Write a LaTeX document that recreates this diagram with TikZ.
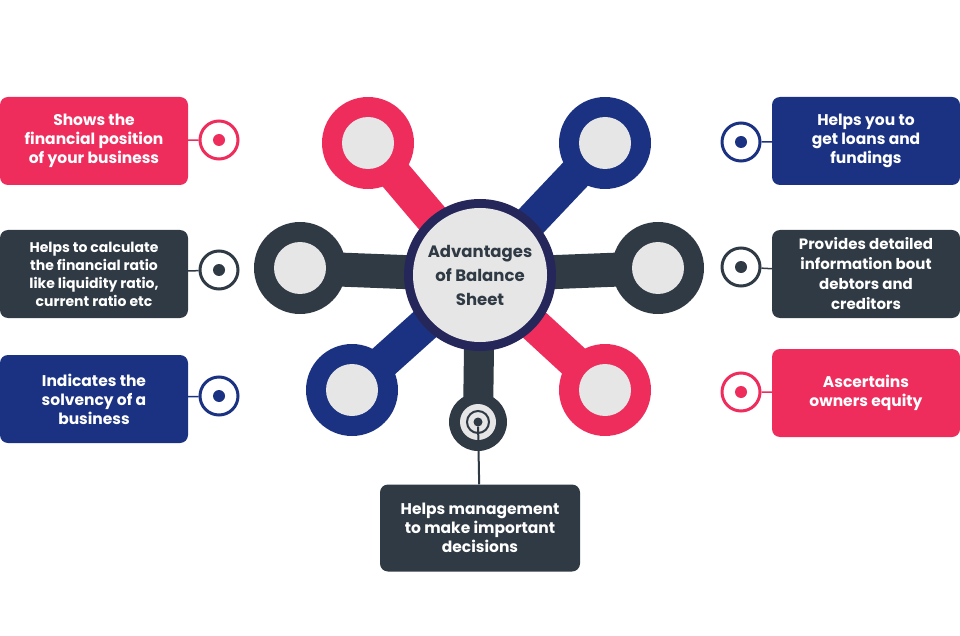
\documentclass[tikz,border=0pt]{standalone}
\usepackage{fontspec}
\setmainfont{Poppins}
\usetikzlibrary{positioning}
\definecolor{pinkred}{HTML}{EE2D5D}
\definecolor{navy}{HTML}{1B3282}
\definecolor{slate}{HTML}{2F3A44}
\definecolor{lightgray}{HTML}{E6E6E6}
\definecolor{hubring}{HTML}{25275A}
\tikzset{
  infobox/.style={rounded corners=8pt, minimum width=188pt, minimum height=88pt, text=white, align=center, font=\bfseries\fontsize{15.5}{19}\selectfont, inner sep=4pt},
  target/.style={circle, draw=#1, line width=3pt, fill=white, minimum size=38pt, inner sep=0pt},
  dot/.style={circle, fill=#1, minimum size=12pt, inner sep=0pt},
  lobe/.style={circle, fill=#1, minimum size=92pt, inner sep=0pt},
  hole/.style={circle, fill=lightgray, minimum size=52pt, inner sep=0pt}
}
\begin{document}
\begin{tikzpicture}[x=1pt, y=-1pt]
  \useasboundingbox (0,0) rectangle (960,636);
  % Hub center
  \coordinate (hubc) at (480,275);
  % Arms
  \foreach \px/\py/\col/\nm in {368/143/pinkred/ltop, 605/143/navy/rtop, 300/268/slate/lmid, 658/268/slate/rmid, 352/390/navy/lbot, 605/390/pinkred/rbot} {
    \draw[\col, line width=34pt] (hubc) -- (\px,\py);
    \node[lobe=\col] (\nm) at (\px,\py) {};
    \node[hole] at (\nm) {};
  }
  \draw[slate, line width=30pt] (hubc) -- (478,420);
  \node[circle, fill=slate, minimum size=58pt, inner sep=0pt] (bot) at (478,422) {};
  \node[circle, fill=lightgray, minimum size=36pt, inner sep=0pt] at (bot) {};
  \node[circle, draw=slate, line width=2pt, minimum size=22pt, inner sep=0pt] at (bot) {};
  \node[dot=slate, minimum size=9pt] (botdot) at (bot) {};
  % Hub
  \node[circle, fill=hubring, minimum size=152pt, inner sep=0pt] (hub) at (hubc) {};
  \node[circle, fill=lightgray, minimum size=134pt, inner sep=0pt, align=center, text=slate,
        font=\bfseries\fontsize{16.5}{24}\selectfont] at (hub) {Advantages\\of Balance\\Sheet};
  % Boxes
  \node[infobox, fill=pinkred] (b1) at (94,141) {Shows the\\financial position\\of your business};
  \node[infobox, fill=slate, font=\bfseries\fontsize{14}{18}\selectfont] (b2) at (94,274) {Helps to calculate\\the financial ratio\\like liquidity ratio,\\current ratio etc};
  \node[infobox, fill=navy] (b3) at (94,399) {Indicates the\\solvency of a\\business};
  \node[infobox, fill=navy] (b4) at (866,141) {Helps you to\\get loans and\\fundings};
  \node[infobox, fill=slate, font=\bfseries\fontsize{15}{20}\selectfont] (b5) at (866,274) {Provides detailed\\information bout\\debtors and\\creditors};
  \node[infobox, fill=pinkred] (b6) at (866,393) {Ascertains\\owners equity};
  \node[infobox, fill=slate, minimum width=200pt, minimum height=87pt] (b7) at (480,528) {Helps management\\to make important\\decisions};
  % Targets
  \foreach \tx/\ty/\col/\nm/\bx in {219/140/pinkred/t1/b1, 219/270/slate/t2/b2, 219/396/navy/t3/b3, 741/142/navy/t4/b4, 741/267/slate/t5/b5, 741/392/pinkred/t6/b6} {
    \node[target=\col] (\nm) at (\tx,\ty) {};
    \draw[\col, line width=1.5pt] (\nm) -- (\bx);
    \node[dot=\col] at (\nm) {};
  }
  \draw[slate, line width=2pt] (botdot) -- (b7);
\end{tikzpicture}
\end{document}
